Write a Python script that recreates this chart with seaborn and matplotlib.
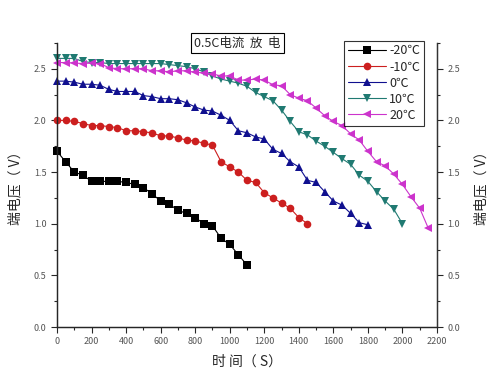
import numpy as np
import pandas as pd
import seaborn as sns
import matplotlib.pyplot as plt
from matplotlib.ticker import MultipleLocator

# --- data (time step of 50 s) ---
t_step = 50
v_m20 = [1.70, 1.60, 1.50, 1.47, 1.41, 1.41, 1.41, 1.41, 1.40, 1.38, 1.35, 1.29,
         1.22, 1.19, 1.13, 1.10, 1.06, 1.00, 0.98, 0.86, 0.80, 0.70, 0.60]
v_m10 = [2.00, 2.00, 1.99, 1.97, 1.95, 1.95, 1.94, 1.93, 1.90, 1.90, 1.89, 1.88,
         1.85, 1.85, 1.83, 1.81, 1.80, 1.78, 1.76, 1.60, 1.55, 1.50, 1.42, 1.40,
         1.30, 1.25, 1.20, 1.15, 1.06, 1.00]
v_0 = [2.38, 2.38, 2.37, 2.35, 2.35, 2.34, 2.30, 2.28, 2.28, 2.28, 2.24, 2.23,
       2.21, 2.21, 2.20, 2.17, 2.13, 2.10, 2.09, 2.05, 2.00, 1.90, 1.88, 1.84,
       1.82, 1.72, 1.68, 1.60, 1.55, 1.42, 1.40, 1.31, 1.22, 1.18, 1.10, 1.01, 0.99]
v_10 = [2.60, 2.60, 2.60, 2.57, 2.56, 2.56, 2.55, 2.55, 2.55, 2.55, 2.55, 2.55,
        2.55, 2.54, 2.53, 2.52, 2.50, 2.47, 2.43, 2.40, 2.38, 2.36, 2.33, 2.27,
        2.23, 2.19, 2.10, 1.99, 1.89, 1.86, 1.80, 1.75, 1.69, 1.63, 1.575, 1.47,
        1.41, 1.31, 1.22, 1.14, 1.00]
v_20 = [2.56, 2.56, 2.555, 2.55, 2.555, 2.55, 2.51, 2.50, 2.50, 2.50, 2.50, 2.48,
        2.48, 2.47, 2.48, 2.48, 2.465, 2.46, 2.45, 2.43, 2.43, 2.39, 2.39, 2.40,
        2.39, 2.345, 2.335, 2.25, 2.215, 2.19, 2.12, 2.045, 1.99, 1.95, 1.87, 1.81,
        1.70, 1.60, 1.56, 1.48, 1.38, 1.26, 1.15, 0.955]

labels = ['-20℃', '-10℃', '0℃', '10℃', '20℃']
series = [v_m20, v_m10, v_0, v_10, v_20]
colors = ['#000000', '#cc1f1f', '#10108f', '#207a72', '#cc33cc']
markers = ['s', 'o', '^', 'v', '<']

sns.set_style("ticks")
plt.rcParams['font.family'] = ['Noto Sans CJK SC', 'DejaVu Sans']

fig = plt.figure(figsize=(5, 3.83), dpi=100)
ax = fig.add_axes([0.114, 0.146, 0.76, 0.742])

for lab, vals, col, mk in zip(labels, series, colors, markers):
    t = np.arange(len(vals)) * t_step
    sns.lineplot(x=t, y=vals, ax=ax, color=col, marker=mk, markersize=5.5,
                 markeredgewidth=0, linewidth=0.8, label=lab, clip_on=False)

ax.set_xlim(0, 2200)
ax.set_ylim(0, 2.75)
ax.xaxis.set_major_locator(MultipleLocator(200))
ax.xaxis.set_minor_locator(MultipleLocator(100))
ax.yaxis.set_major_locator(MultipleLocator(0.5))
ax.yaxis.set_minor_locator(MultipleLocator(0.25))
ax.yaxis.set_major_formatter(plt.FormatStrFormatter('%.1f'))
ax.tick_params(axis='both', which='major', length=4, width=0.8, labelsize=6.5,
               labelcolor='#555555', direction='out')
ax.tick_params(axis='both', which='minor', length=2.5, width=0.8, direction='out')
ax.spines['top'].set_visible(False)
for s in ['left', 'bottom', 'right']:
    ax.spines[s].set_linewidth(1.0)
    ax.spines[s].set_color('#333333')

ax.set_xlabel('时 间（ S）', fontsize=10, labelpad=6)
ax.set_ylabel('端电压（ V）', fontsize=10, labelpad=8)

# right axis with the same voltage scale
ax2 = ax.twinx()
ax2.set_ylim(ax.get_ylim())
ax2.yaxis.set_major_locator(MultipleLocator(0.5))
ax2.yaxis.set_minor_locator(MultipleLocator(0.25))
ax2.yaxis.set_major_formatter(plt.FormatStrFormatter('%.1f'))
ax2.tick_params(axis='y', which='major', length=4, width=0.8, labelsize=6.5,
                labelcolor='#555555', direction='out')
ax2.tick_params(axis='y', which='minor', length=2.5, width=0.8, direction='out')
ax2.spines['top'].set_visible(False)
ax2.spines['right'].set_color('#333333')
ax2.set_ylabel('端电压（ V）', fontsize=10, labelpad=10)

ax.text(0.475, 1.0, '0.5C电流  放  电', transform=ax.transAxes, ha='center',
        va='center', fontsize=9,
        bbox=dict(boxstyle='square,pad=0.3', facecolor='white', edgecolor='black', lw=0.8))

leg = ax.legend(loc='upper right', bbox_to_anchor=(0.982, 1.03), fontsize=9,
                frameon=True, fancybox=False, edgecolor='black', handlelength=3.0,
                handletextpad=0.3, borderpad=0.3, labelspacing=0.25)
leg.get_frame().set_linewidth(0.8)
leg.set_zorder(5)

fig.savefig('out.png', dpi=100)
